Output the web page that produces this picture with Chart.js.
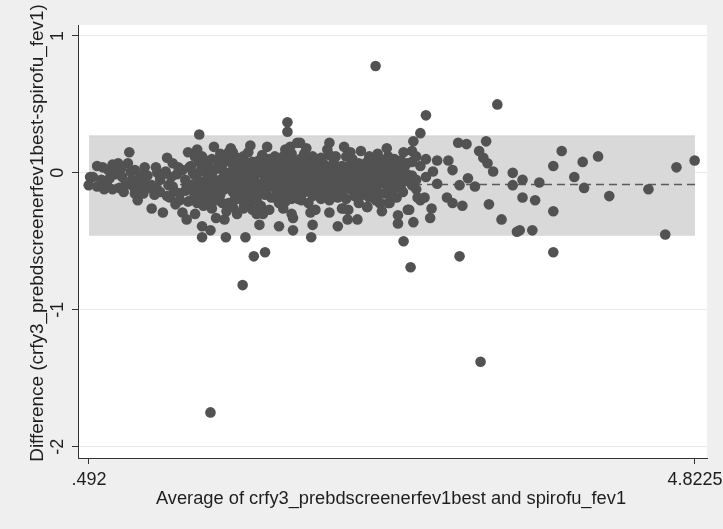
<!DOCTYPE html>
<html>
<head>
<meta charset="utf-8">
<script src="https://cdn.jsdelivr.net/npm/chart.js@4/dist/chart.umd.min.js"></script>
<style>
  html, body { margin: 0; padding: 0; background: #efefef; }
  canvas { display: block; }
</style>
</head>
<body>
<canvas id="grafica" width="723" height="529"></canvas>
<script>
// limits of agreement (Bland-Altman)
const meanDiff = -0.085
const upperLoA = 0.27
const lowerLoA = -0.455

const xTicks = [0.492, 4.8225]
const xTickLabels = ['.492', '4.8225']
const yTicks = [-2, -1, 0, 1]
const yTickLabels = ['-2', '-1', '0', '1']

const xTitle = 'Average of crfy3_prebdscreenerfev1best and spirofu_fev1'
const yTitle = 'Difference (crfy3_prebdscreenerfev1best-spirofu_fev1)'

// lower averages, read point by point [average, difference]
const leftCloud = [
  [0.50, -0.03], [0.49, -0.09], [0.55, 0.05], [0.55, -0.10], [0.52, -0.03], [0.59, 0.04],
  [0.62, -0.07], [0.66, 0.06], [0.66, -0.12], [0.70, 0.07], [0.71, -0.11], [0.68, -0.01],
  [0.73, -0.03], [0.77, 0.07], [0.78, 0.15], [0.69, 0.00], [0.64, -0.04], [0.75, -0.09],
  [0.80, -0.05], [0.82, 0.02], [0.82, -0.15], [0.84, -0.20], [0.89, 0.04], [0.89, -0.07],
  [0.94, -0.09], [0.94, -0.26], [0.98, 0.00], [0.98, -0.12], [0.86, -0.02], [0.91, -0.02],
  [0.96, -0.16], [0.87, -0.11],
  [1.02, -0.29], [1.05, 0.11], [1.09, 0.07], [1.07, -0.18], [1.00, -0.05], [1.06, -0.09],
  [1.12, -0.01], [1.14, -0.15], [1.16, -0.29], [1.19, -0.34], [1.19, -0.09], [1.20, 0.15],
  [1.09, -0.10], [1.14, -0.20], [1.18, -0.05], [1.04, 0.01], [1.13, 0.04], [1.11, -0.23],
  [1.21, 0.04],
  [0.58, -0.05], [0.60, -0.12], [0.63, 0.02], [0.72, 0.03],
  [0.74, -0.14], [0.79, 0.01], [0.81, -0.10], [0.85, -0.06], [0.88, -0.15],
  [0.92, -0.11], [0.97, 0.04], [1.00, -0.14], [1.01, -0.02],
  [1.05, -0.17], [1.08, -0.03], [1.10, -0.13], [1.16, 0.02],
  [1.18, -0.13], [1.20, -0.21], [1.30, 0.12]
]

// dense middle part: average -> differences seen in that column
const midColumns = [
  [1.22, [0.05, -0.09, -0.20]],
  [1.235, [0.00, -0.13]],
  [1.25, [0.12, -0.02, -0.15, -0.30]],
  [1.265, [0.17, -0.08, -0.22]],
  [1.28, [0.08, -0.06, -0.20]],
  [1.295, [0.03, -0.15]],
  [1.31, [0.01, -0.11, -0.24]],
  [1.325, [0.09, -0.07, -0.19]],
  [1.34, [0.06, -0.04, -0.17]],
  [1.355, [0.01, -0.10, -0.22]],
  [1.37, [0.10, -0.01, -0.13, -0.26]],
  [1.385, [0.19, -0.05, -0.16]],
  [1.40, [0.03, -0.08, -0.20, -0.33]],
  [1.415, [0.09, -0.12]],
  [1.43, [0.14, -0.05, -0.16]],
  [1.445, [0.02, -0.09, -0.22]],
  [1.46, [0.08, -0.02, -0.12, -0.34]],
  [1.475, [0.11, -0.06, -0.28]],
  [1.49, [0.15, 0.00, -0.09, -0.22]],
  [1.505, [0.18, -0.11]],
  [1.52, [0.06, -0.04, -0.14, -0.25]],
  [1.535, [0.09, -0.08, -0.19]],
  [1.55, [0.11, 0.00, -0.10, -0.19, -0.30]],
  [1.565, [0.05, -0.05, -0.14]],
  [1.58, [0.04, -0.07, -0.16]],
  [1.595, [0.12, -0.10, -0.26]],
  [1.60, [0.09, -0.02, -0.12, -0.22]],
  [1.615, [0.03, -0.07, -0.17]],
  [1.63, [0.02, -0.06, -0.18]],
  [1.645, [0.20, -0.10, -0.23]],
  [1.66, [0.08, -0.03, -0.14]],
  [1.675, [0.02, -0.05, -0.16]],
  [1.69, [0.05, -0.08, -0.20, -0.30]],
  [1.705, [0.09, -0.14]],
  [1.72, [0.00, -0.11, -0.24]],
  [1.735, [0.03, -0.08, -0.30]],
  [1.75, [0.07, -0.05, -0.16]],
  [1.765, [0.19, -0.12]],
  [1.78, [0.10, -0.02, -0.09, -0.27]],
  [1.795, [0.04, -0.06, -0.18]],
  [1.82, [0.03, -0.07, -0.18]],
  [1.835, [0.08, -0.03, -0.13]],
  [1.85, [0.08, -0.01, -0.12, -0.22]],
  [1.865, [0.01, -0.08, -0.18]],
  [1.88, [0.12, 0.04, -0.05, -0.15, -0.26]],
  [1.895, [0.17, -0.12, -0.21]],
  [1.91, [0.08, -0.03, -0.10]],
  [1.925, [0.04, -0.06, -0.16]],
  [1.94, [0.14, 0.01, -0.08, -0.19, -0.30]],
  [1.955, [0.09, -0.03, -0.12]],
  [1.97, [0.06, -0.04, -0.14]],
  [1.985, [0.01, -0.08, -0.19]],
  [2.00, [0.10, 0.00, -0.10]],
  [2.015, [0.06, -0.05, -0.15]],
  [2.03, [0.14, 0.05, -0.05, -0.14]],
  [2.045, [0.18, -0.01, -0.10]],
  [2.06, [0.09, -0.02, -0.11, -0.22]],
  [2.075, [0.04, -0.07, -0.29]],
  [2.09, [0.12, 0.02, -0.07, -0.17]],
  [2.105, [0.08, -0.03, -0.12]],
  [2.12, [0.06, -0.03, -0.13]],
  [2.135, [0.02, -0.07, -0.17]],
  [2.15, [0.11, 0.00, -0.09, -0.19]],
  [2.165, [0.07, -0.04, -0.13]],
  [2.18, [0.04, -0.06, -0.15]],
  [2.195, [0.17, -0.01, -0.10]],
  [2.21, [0.13, 0.02, -0.10, -0.20]],
  [2.225, [0.05, -0.06, -0.16]],
  [2.24, [0.08, -0.03, -0.12]],
  [2.255, [0.12, 0.01, -0.08]],
  [2.27, [0.03, -0.08, -0.18]],
  [2.285, [0.04, -0.04, -0.13]],
  [2.30, [0.05, -0.05, -0.14, -0.26]],
  [2.315, [0.19, -0.02, -0.12]],
  [2.33, [0.12, 0.02, -0.09, -0.19]],
  [2.345, [0.03, -0.07, -0.27]],
  [2.36, [0.06, -0.03, -0.12]],
  [2.375, [0.10, -0.01, -0.10]],
  [2.39, [0.01, -0.08, -0.17]],
  [2.405, [0.04, -0.06, -0.14]],
  [2.42, [0.07, -0.04, -0.13, -0.22]],
  [2.435, [0.16, 0.00, -0.10]],
  [2.45, [0.03, -0.07, -0.16]],
  [2.465, [0.05, -0.04, -0.13]],
  [2.48, [0.08, -0.01, -0.10, -0.25]],
  [2.495, [0.12, -0.05, -0.18]],
  [2.51, [0.02, -0.06, -0.14]],
  [2.525, [0.03, -0.09]],
  [2.54, [0.06, -0.03, -0.12, -0.20]],
  [2.555, [0.14, -0.06, -0.16]],
  [2.57, [0.10, 0.01, -0.08, -0.22]],
  [2.585, [0.03, -0.28]],
  [2.60, [0.04, -0.05, -0.15]],
  [2.615, [0.08, -0.02, -0.08]],
  [2.63, [0.12, 0.00, -0.10, -0.22]],
  [2.645, [0.04, -0.07, -0.16]],
  [2.66, [0.07, -0.04, -0.13]],
  [2.675, [0.10, -0.01]],
  [2.69, [0.02, -0.07, -0.18]],
  [2.705, [0.05, -0.10]],
  [2.72, [0.09, -0.01, -0.11]],
  [2.735, [-0.04, -0.14]],
  [2.75, [0.05, -0.06]],
  [2.765, [0.07, -0.01]],
  [2.78, [-0.27]],
  [2.80, [0.16, 0.08, -0.02, -0.09]],
  [2.83, [0.12, -0.05, -0.12]],
  [2.86, [0.05, -0.20]],
  [2.90, [0.10, -0.03]]
]

// scattered points around the middle cloud
const midScatter = [
  [2.54, 0.78], [1.59, -0.82], [1.36, -1.75], [1.67, -0.61], [1.75, -0.58],
  [1.28, 0.28], [1.91, 0.37], [1.91, 0.30], [1.93, 0.19], [1.98, 0.22],
  [2.21, 0.22], [2.00, 0.22], [2.36, 0.15], [2.62, 0.18], [2.74, 0.15],
  [1.30, -0.39], [1.36, -0.42], [1.30, -0.47], [1.47, -0.47], [1.61, -0.47],
  [1.66, -0.27], [1.71, -0.38], [1.85, -0.39], [1.95, -0.42], [1.95, -0.33],
  [2.08, -0.47], [2.09, -0.38], [2.11, -0.27], [2.27, -0.39], [2.34, -0.34],
  [2.41, -0.34], [2.21, -0.29], [2.31, -0.26], [2.48, -0.25], [2.51, 0.09],
  [2.70, -0.31], [2.70, -0.37], [2.01, -0.20], [2.64, -0.22], [2.57, -0.22],
  [2.77, -0.27], [1.25, 0.12], [1.52, 0.15], [1.63, 0.15], [1.73, 0.13], [1.82, 0.12]
]

// higher averages, read point by point
const rightCloud = [
  [2.81, -0.36], [2.84, -0.18], [2.89, -0.18], [2.86, 0.29], [2.90, 0.42], [2.81, 0.23],
  [2.93, -0.33], [2.94, -0.26], [2.95, 0.01], [2.98, 0.09], [2.98, -0.08], [3.06, 0.09],
  [3.09, 0.02], [3.05, -0.18], [3.09, -0.22], [3.16, -0.24], [3.13, 0.22], [3.19, 0.21],
  [3.14, -0.09], [3.20, -0.04], [3.25, -0.10], [3.28, 0.16], [3.31, 0.11], [3.34, 0.07],
  [3.38, 0.01], [3.33, 0.23], [3.35, -0.23], [3.44, -0.34], [3.41, 0.50], [3.52, 0.00],
  [3.52, -0.09], [3.55, -0.43], [3.14, -0.61], [3.29, -1.38], [2.79, -0.69], [2.74, -0.50],
  [3.57, -0.42], [3.66, -0.42], [3.59, -0.05], [3.59, -0.18], [3.68, -0.20], [3.71, -0.07],
  [3.81, 0.05], [3.87, 0.16], [3.96, -0.03], [4.02, 0.08], [4.03, -0.11], [4.13, 0.12],
  [4.21, -0.17], [3.81, -0.28], [3.81, -0.58], [4.49, -0.12], [4.61, -0.45], [4.69, 0.04],
  [4.82, 0.09]
]

const fuente = 'Liberation Sans, Arial, Helvetica, sans-serif'
const colorTexto = '#1e1e1e'

let puntos = []
leftCloud.forEach(p => puntos.push({ x: p[0], y: p[1] }))
midColumns.forEach(col => {
  col[1].forEach(d => puntos.push({ x: col[0], y: d }))
})
midScatter.forEach(p => puntos.push({ x: p[0], y: p[1] }))
rightCloud.forEach(p => puntos.push({ x: p[0], y: p[1] }))

const xMin = xTicks[0], xMax = xTicks[1]

// fondo gris de Stata y zona blanca del grafico
const fondoPlugin = {
  id: 'fondo',
  beforeDraw(chart) {
    const { ctx, chartArea } = chart
    ctx.save()
    ctx.fillStyle = '#efefef'
    ctx.fillRect(0, 0, chart.width, chart.height)
    ctx.fillStyle = '#ffffff'
    ctx.fillRect(chartArea.left, chartArea.top, chartArea.right - chartArea.left, chartArea.bottom - chartArea.top)
    ctx.restore()
  }
}

// etiquetas y titulos de ejes (y rotadas como en Stata)
const textosPlugin = {
  id: 'textos',
  afterDraw(chart) {
    const { ctx, scales } = chart
    ctx.save()
    ctx.fillStyle = colorTexto
    ctx.font = '18px ' + fuente
    ctx.textAlign = 'center'
    ctx.textBaseline = 'alphabetic'
    xTicks.forEach((v, i) => {
      ctx.fillText(xTickLabels[i], scales.x.getPixelForValue(v), 485)
    })
    yTicks.forEach((v, i) => {
      ctx.save()
      ctx.translate(63, scales.y.getPixelForValue(v))
      ctx.rotate(-Math.PI / 2)
      ctx.fillText(yTickLabels[i], 0, 0)
      ctx.restore()
    })
    ctx.font = '18.3px ' + fuente
    ctx.fillText(xTitle, 391, 504)
    ctx.font = '18.9px ' + fuente
    ctx.translate(43, 233)
    ctx.rotate(-Math.PI / 2)
    ctx.fillText(yTitle, 0, 0)
    ctx.restore()
  }
}

const $grafica = document.querySelector('#grafica')
new Chart($grafica, {
  type: 'scatter',
  data: {
    datasets: [
      {
        data: puntos,
        pointRadius: 5.3,
        pointBackgroundColor: '#525252',
        pointBorderWidth: 0,
        showLine: false
      },
      {
        data: [{ x: xMin, y: meanDiff }, { x: xMax, y: meanDiff }],
        showLine: true,
        borderColor: '#5a5a5a',
        borderWidth: 1.5,
        borderDash: [8, 5],
        pointRadius: 0
      },
      {
        data: [{ x: xMin, y: upperLoA }, { x: xMax, y: upperLoA }],
        showLine: true,
        borderColor: '#d2d2d2',
        borderWidth: 1,
        backgroundColor: '#d9d9d9',
        fill: '+1',
        pointRadius: 0
      },
      {
        data: [{ x: xMin, y: lowerLoA }, { x: xMax, y: lowerLoA }],
        showLine: true,
        borderColor: '#d2d2d2',
        borderWidth: 1,
        pointRadius: 0
      }
    ]
  },
  options: {
    responsive: false,
    animation: false,
    layout: { padding: { top: 25, right: 16, left: 0, bottom: 0 } },
    plugins: {
      legend: { display: false },
      tooltip: { enabled: false }
    },
    scales: {
      x: {
        type: 'linear',
        min: 0.4134,
        max: 4.9083,
        afterBuildTicks: s => { s.ticks = xTicks.map(v => ({ value: v })) },
        afterFit: s => { s.height = 71 },
        ticks: { display: false },
        grid: { drawOnChartArea: false, tickLength: 6, tickColor: '#333', tickWidth: 1 },
        border: { color: '#333', width: 1 }
      },
      y: {
        min: -2.083,
        max: 1.08,
        afterBuildTicks: s => { s.ticks = yTicks.map(v => ({ value: v })) },
        afterFit: s => { s.width = 78 },
        ticks: { display: false },
        grid: { color: '#e9e9e9', lineWidth: 1, tickLength: 6, tickColor: '#333' },
        border: { color: '#333', width: 1 }
      }
    }
  },
  plugins: [fondoPlugin, textosPlugin]
})
</script>
</body>
</html>
